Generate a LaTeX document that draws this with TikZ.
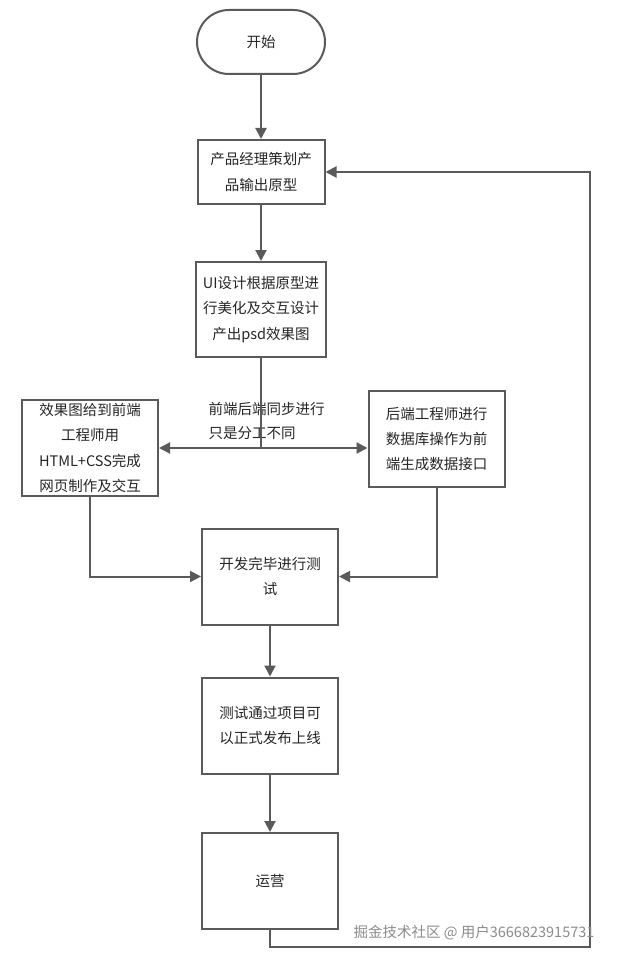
\documentclass[tikz,border=0pt]{standalone}
\usepackage{fontspec}
\setmainfont{Noto Sans CJK SC}
\usetikzlibrary{arrows.meta}
\definecolor{linegray}{HTML}{5A5A5A}
\begin{document}
\begin{tikzpicture}[x=1pt,y=-1pt,
  box/.style={draw=linegray, line width=2pt, fill=white, minimum width=136pt, minimum height=96pt,
    inner sep=0pt, align=center, text=black!85, font=\fontsize{14.5}{25.3}\selectfont},
  flow/.style={draw=linegray, line width=2pt, -{Triangle[length=11pt,width=11pt]}},
  link/.style={draw=linegray, line width=2pt}]

\fill[white] (0,0) rectangle (616,960);
\useasboundingbox (0,0) rectangle (616,960);

\node[box, rounded corners=32pt, minimum width=128pt, minimum height=64pt] at (261,42) (start){开始};
\node[box, minimum width=127pt, minimum height=64pt] at (261,172) (pm){产品经理策划产\\品输出原型};
\node[box, minimum width=130pt, minimum height=95pt] at (261,309.5) (ui){UI设计根据原型进\\行美化及交互设计\\产出psd效果图};

\node[box] at (90,448) (fe){效果图给到前端\\工程师用\\HTML+CSS完成\\网页制作及交互};
\node[box] at (436.5,439) (be){后端工程师进行\\数据库操作为前\\端生成数据接口};
\node[anchor=west, align=left, text=black!85, font=\fontsize{14.5}{24}\selectfont] at (205,421) (sync){前端后端同步进行\\只是分工不同};

\node[box] at (270,576.5) (test){开发完毕进行测\\试};
\node[box] at (270,725.5) (tested){测试通过项目可\\以正式发布上线};
\node[box] at (270,881) (ops){运营};

\coordinate (split) at (ui.south |- fe.east);
\coordinate (loop) at (590,947);

\draw[flow] (start) -- (pm);
\draw[flow] (pm) -- (ui);
\draw[link] (ui.south) -- (split);
\draw[flow] (split) -- (fe.east);
\draw[flow] (split) -- (be.west |- split);
\draw[flow] (fe.south) |- (test.west);
\draw[flow] (be.south) |- (test.east);
\draw[flow] (test) -- (tested);
\draw[flow] (tested) -- (ops);
\draw[flow] (ops.south) |- (loop) |- (pm.east);

\node[anchor=east, text=black!45, font=\fontsize{14.5}{14.5}\selectfont] at (598,933) (credit){掘金技术社区 @ 用户3666823915731};

\end{tikzpicture}
\end{document}
